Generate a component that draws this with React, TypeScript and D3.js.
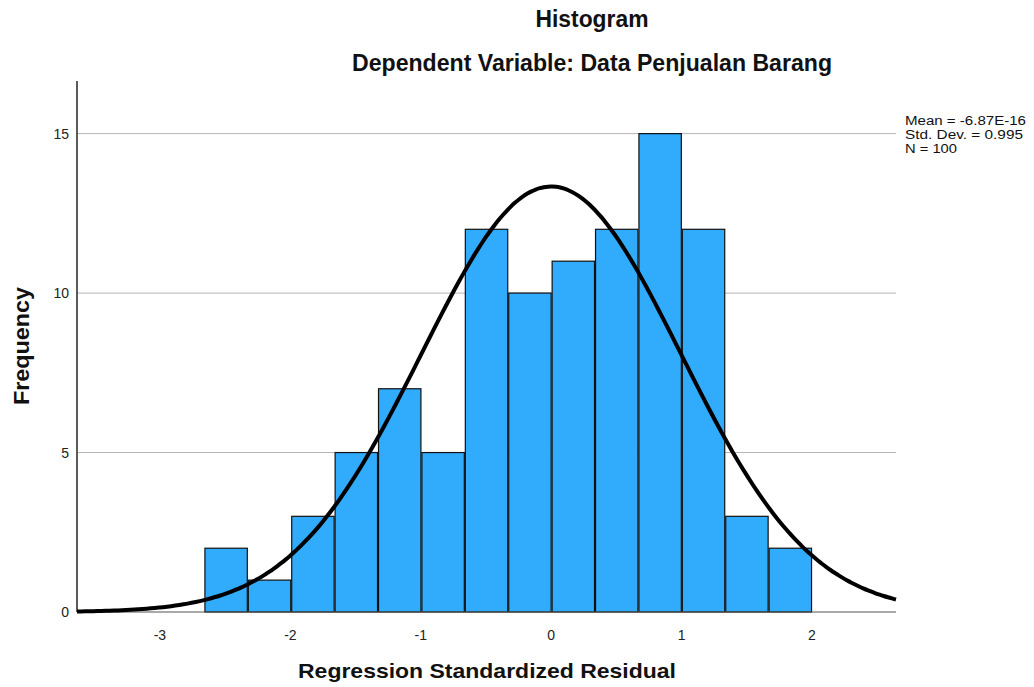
import { useRef, useEffect } from 'react';
import * as d3 from 'd3';

// histogram counts (N = 100)
const frequencies = [2, 1, 3, 5, 7, 5, 12, 10, 11, 12, 15, 12, 3, 2];
const binStart = -2.659;
const binWidth = 0.3328;
const xTicks = [-3, -2, -1, 0, 1, 2];
const yTicks = [0, 5, 10, 15];
const gridValues = [5, 10, 15];
const statsLines = ['Mean = -6.87E-16', 'Std. Dev. = 0.995', 'N = 100'];
const statsWidths = [121, 118, 52];
const mean = -6.87e-16;
const stdDev = 0.995;
const n = 100;

const WIDTH = 1034;
const HEIGHT = 687;
const margin = { top: 81, right: 138, bottom: 75, left: 77 };
const FONT = '"Liberation Sans", Arial, sans-serif';

export default function App() {
  const svgRef = useRef<SVGSVGElement>(null);

  useEffect(() => {
    const svg = d3.select(svgRef.current);
    if (!svg.node()) return;
    svg.selectAll('*').remove();

    const xScale = d3.scaleLinear()
      .domain([-3.636, 2.644])
      .range([margin.left, WIDTH - margin.right]);

    const yScale = d3.scaleLinear()
      .domain([0, 16.65])
      .range([HEIGHT - margin.bottom, margin.top]);

    const g = svg.append('g');

    // grid lines
    gridValues.forEach(v => {
      g.append('line')
        .attr('x1', margin.left)
        .attr('x2', WIDTH - margin.right)
        .attr('y1', yScale(v))
        .attr('y2', yScale(v))
        .attr('stroke', '#b4b4b4')
        .attr('stroke-width', 1);
    });

    // bars
    g.selectAll('.bar')
      .data(frequencies)
      .enter()
      .append('rect')
      .attr('class', 'bar')
      .attr('x', (_d: number, i: number) => xScale(binStart + i * binWidth) + 0.5)
      .attr('y', (d: number) => yScale(d))
      .attr('width', xScale(binWidth) - xScale(0) - 1)
      .attr('height', (d: number) => yScale(0) - yScale(d))
      .style('fill', '#31abfc')
      .style('stroke', '#111')
      .style('stroke-width', 1.2);

    // axes
    g.append('line')
      .attr('x1', margin.left)
      .attr('x2', WIDTH - margin.right)
      .attr('y1', yScale(0))
      .attr('y2', yScale(0))
      .attr('stroke', '#555')
      .attr('stroke-width', 1);

    g.append('line')
      .attr('x1', margin.left)
      .attr('x2', margin.left)
      .attr('y1', margin.top)
      .attr('y2', yScale(0))
      .attr('stroke', '#333')
      .attr('stroke-width', 1.6);

    // normal curve
    const [x0, x1] = xScale.domain();
    const curvePoints = d3.range(0, 201).map(i => {
      const x = x0 + (i / 200) * (x1 - x0);
      const z = (x - mean) / stdDev;
      const y = n * binWidth * Math.exp(-0.5 * z * z) / (stdDev * Math.sqrt(2 * Math.PI));
      return [x, y] as [number, number];
    });
    const line = d3.line<[number, number]>()
      .x(d => xScale(d[0]))
      .y(d => yScale(d[1]))
      .curve(d3.curveBasis);

    g.append('path')
      .datum(curvePoints)
      .attr('d', line)
      .attr('fill', 'none')
      .attr('stroke', '#000')
      .attr('stroke-width', 4);

    // tick labels
    xTicks.forEach(t => {
      g.append('text')
        .attr('x', xScale(t))
        .attr('y', yScale(0) + 28)
        .attr('text-anchor', 'middle')
        .style('font-family', FONT)
        .style('font-size', '14px')
        .style('fill', '#222')
        .text(t);
    });

    yTicks.forEach(t => {
      g.append('text')
        .attr('x', margin.left - 8)
        .attr('y', yScale(t) + 5)
        .attr('text-anchor', 'end')
        .style('font-family', FONT)
        .style('font-size', '14px')
        .style('fill', '#222')
        .text(t);
    });

    // titles
    const boldText = (x: number, y: number, size: number, len: number, label: string) =>
      g.append('text')
        .attr('x', x)
        .attr('y', y)
        .attr('text-anchor', 'middle')
        .attr('textLength', len)
        .attr('lengthAdjust', 'spacingAndGlyphs')
        .style('font-family', FONT)
        .style('font-size', `${size}px`)
        .style('font-weight', 'bold')
        .style('fill', '#111')
        .text(label);

    boldText(592, 27, 23, 113, 'Histogram');
    boldText(592, 71, 23, 480, 'Dependent Variable: Data Penjualan Barang');
    boldText(487, 678, 21, 378, 'Regression Standardized Residual');
    boldText(-346, 29, 22, 118, 'Frequency').attr('transform', 'rotate(-90)');

    // stats legend
    statsLines.forEach((s, i) => {
      g.append('text')
        .attr('x', 905)
        .attr('y', 125 + i * 14)
        .attr('textLength', statsWidths[i])
        .attr('lengthAdjust', 'spacingAndGlyphs')
        .style('font-family', FONT)
        .style('font-size', '12.5px')
        .style('fill', '#111')
        .text(s);
    });
  }, []);

  return (
    <svg
      ref={svgRef}
      width={WIDTH}
      height={HEIGHT}
      style={{ position: 'absolute', left: 0, top: 0, background: '#fff' }}
    />
  );
}
